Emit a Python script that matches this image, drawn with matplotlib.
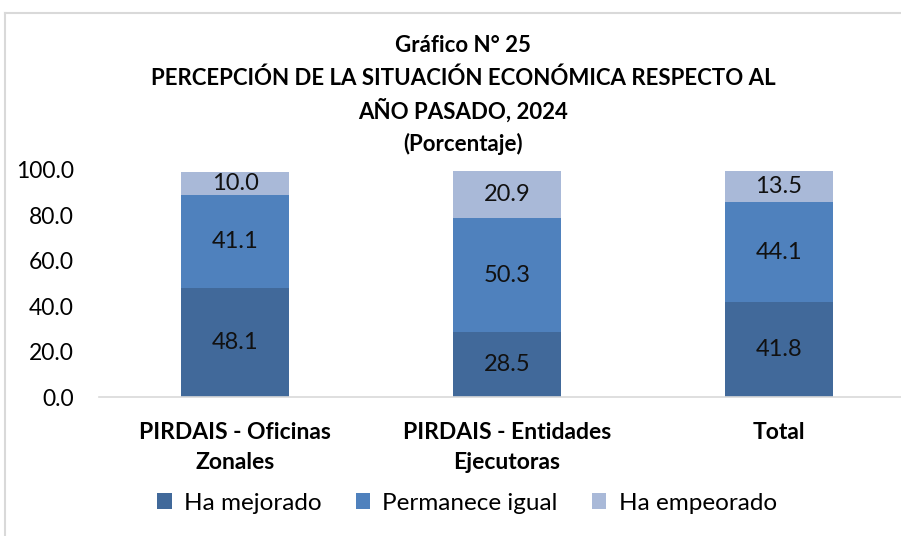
import numpy as np
import matplotlib.pyplot as plt
from matplotlib.lines import Line2D
from matplotlib.patches import Patch

plt.rcParams['font.family'] = ['Lato', 'DejaVu Sans']

# Data
categories = ['PIRDAIS - Oficinas\nZonales', 'PIRDAIS - Entidades\nEjecutoras', 'Total']
series_names = ['Ha mejorado', 'Permanece igual', 'Ha empeorado']
mejorado = [48.1, 28.5, 41.8]
igual = [41.1, 50.3, 44.1]
empeorado = [10.0, 20.9, 13.5]
colors = ['#41699A', '#4F81BD', '#A9B9D8']

fig = plt.figure(figsize=(9.01, 5.36), dpi=100)
ax = fig.add_axes([99 / 901, 1 - 397 / 536, 1 - 99 / 901, (397 - 170) / 536])

x = np.arange(len(categories))
width = 0.40
bottom = np.zeros(len(categories))
for vals, name, c in zip([mejorado, igual, empeorado], series_names, colors):
    bars = ax.bar(x, vals, width, bottom=bottom, color=c, label=name)
    for b, v, y0 in zip(bars, vals, bottom):
        ax.text(b.get_x() + b.get_width() / 2, y0 + v / 2, f'{v:.1f}',
                ha='center', va='center', fontsize=17, color='#111111')
    bottom = bottom + np.array(vals)

ax.set_xlim(-0.5, 2.5 - 14 / 272)
ax.set_ylim(0, 100)
ax.set_yticks(np.arange(0, 101, 20))
ax.set_yticklabels([f'{v:.1f}' for v in np.arange(0, 101, 20)], fontsize=16.5)
ax.set_xticks(x)
ax.set_xticklabels(categories, fontsize=16.5, fontweight='bold', linespacing=1.55)
ax.tick_params(axis='y', length=0, pad=18)
ax.tick_params(axis='x', length=0, pad=18)
for s in ['top', 'right', 'left']:
    ax.spines[s].set_visible(False)
ax.spines['bottom'].set_color('#d9d9d9')
ax.spines['bottom'].set_linewidth(1.2)

# title
title_lines = ['Gráfico N° 25',
               'PERCEPCIÓN DE LA SITUACIÓN ECONÓMICA RESPECTO AL',
               'AÑO PASADO, 2024',
               '(Porcentaje)']
for i, t in enumerate(title_lines):
    fig.text(463 / 901, 1 - (45 + i * 33) / 536, t, ha='center', va='center',
             fontsize=16, fontweight='bold')

# legend
handles = [Patch(facecolor=c, label=n) for c, n in zip(colors, series_names)]
fig.legend(handles=handles, loc='center', bbox_to_anchor=(467 / 901, 1 - 503 / 536),
           ncol=3, frameon=False, fontsize=17.5, handlelength=0.6, handleheight=0.6,
           handletextpad=0.5, columnspacing=1.4)

# outer frame
fig.add_artist(Line2D([5 / 901, 5 / 901], [0, 1 - 13 / 536], color='#d9d9d9', lw=1.5))
fig.add_artist(Line2D([5 / 901, 1], [1 - 13 / 536, 1 - 13 / 536], color='#d9d9d9', lw=1.5))

fig.savefig('out.png', dpi=100)
